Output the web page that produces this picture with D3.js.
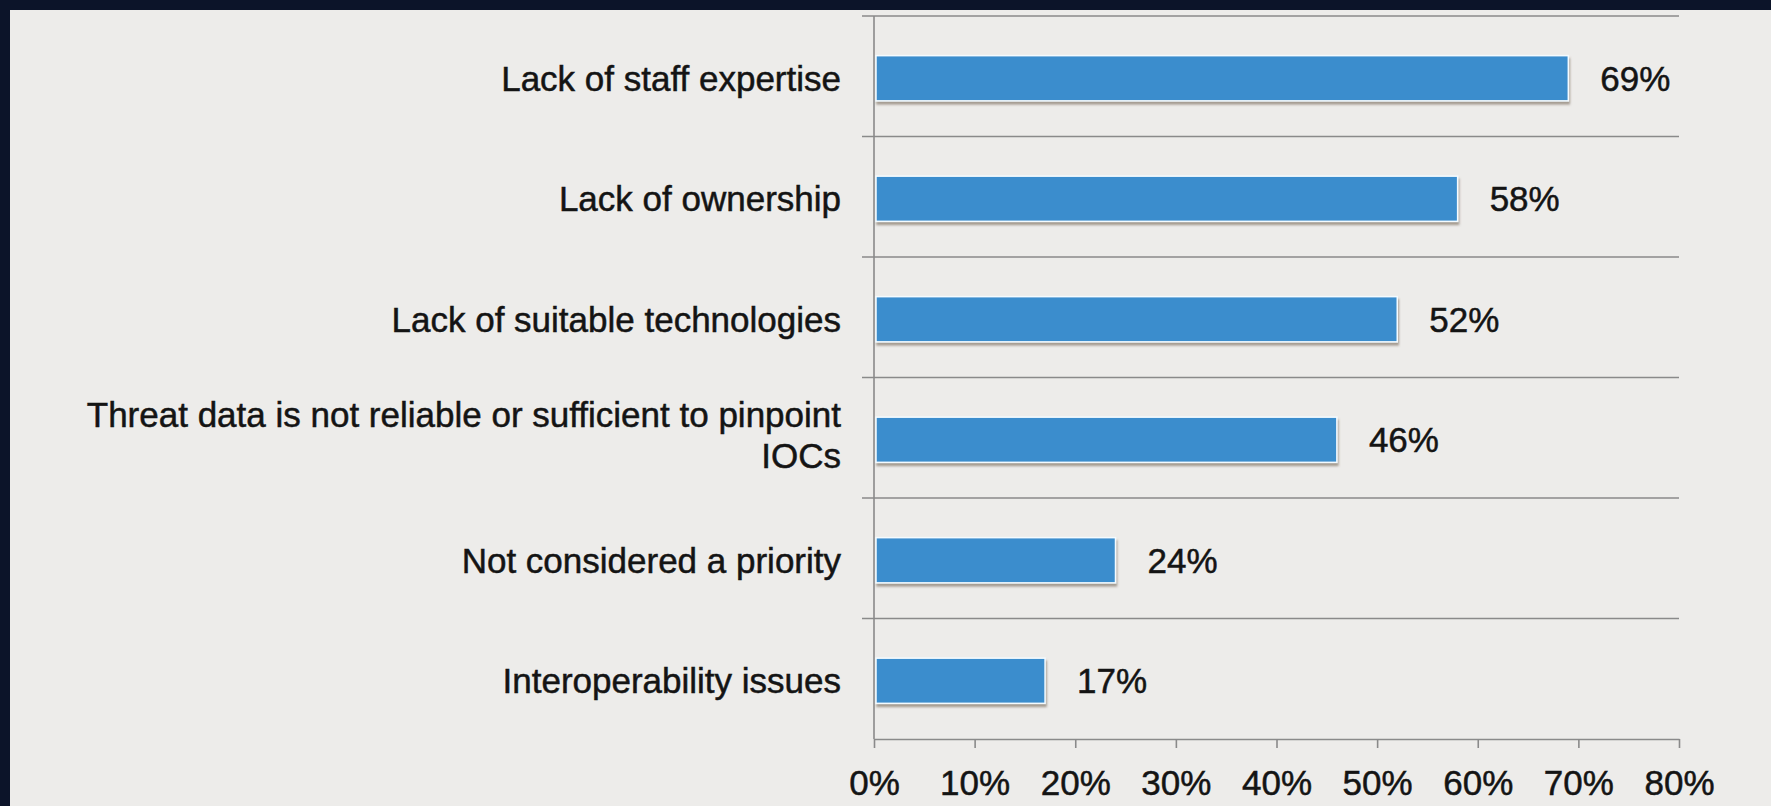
<!DOCTYPE html>
<html>
<head>
<meta charset="utf-8">
<script src="https://cdn.jsdelivr.net/npm/d3@7"></script>
<style>
  html, body { margin: 0; padding: 0; background: #0c1429; }
  svg { display: block; }
  text { font-family: "Liberation Sans", Arial, Helvetica, sans-serif; fill: #141414; }
</style>
</head>
<body>
<svg id="chart" width="1771" height="806"></svg>
<script>
// Survey responses: barriers to using threat intelligence
const categories = [
  "Lack of staff expertise",
  "Lack of ownership",
  "Lack of suitable technologies",
  "Threat data is not reliable or sufficient to pinpoint\nIOCs",
  "Not considered a priority",
  "Interoperability issues"
];
const values = [69, 58, 52, 46, 24, 17];
const tickValues = [0, 10, 20, 30, 40, 50, 60, 70, 80];
const tickLabels = ["0%", "10%", "20%", "30%", "40%", "50%", "60%", "70%", "80%"];

const W = 1771, H = 806;
const svg = d3.select("#chart");

// dark frame with the light panel inset
svg.append("rect").attr("width", W).attr("height", H).attr("fill", "#0c1429");
svg.append("rect").attr("x", 10).attr("y", 10).attr("width", W - 10).attr("height", H - 10)
  .attr("fill", "#edecea");

const plot = { left: 874, right: 1679, top: 16, bottom: 739 };
const fontSize = 35;

const x = d3.scaleLinear().domain([0, 80]).range([plot.left, plot.right]);
const y = d3.scaleBand().domain(categories)
  .range([plot.top, plot.bottom])
  .paddingInner(0.625).paddingOuter(0.3125);

const defs = svg.append("defs");
const shadow = defs.append("filter").attr("id", "barShadow")
  .attr("x", "-5%").attr("y", "-20%").attr("width", "110%").attr("height", "160%");
shadow.append("feDropShadow").attr("dx", 1).attr("dy", 3).attr("stdDeviation", 1.2)
  .attr("flood-color", "#6a5a4a").attr("flood-opacity", 0.55);

const lineColor = "#8a8a8a";

// category separators, extended left of the axis as tick marks
const sepY = d3.range(categories.length + 1).map(i => plot.top + i * (plot.bottom - plot.top) / categories.length);
svg.append("g").selectAll("line").data(sepY.slice(0, -1)).join("line")
  .attr("x1", plot.left - 12).attr("x2", plot.right)
  .attr("y1", d => d).attr("y2", d => d)
  .attr("stroke", lineColor).attr("stroke-width", 1.6);

// bars
svg.append("g").selectAll("rect").data(values).join("rect")
  .attr("x", x(0) + 2)
  .attr("y", (d, i) => y(categories[i]) + 2)
  .attr("width", d => x(d) - x(0) - 2)
  .attr("height", y.bandwidth())
  .attr("fill", "#3b8dcd")
  .attr("stroke", "#f4fbff").attr("stroke-width", 1.5)
  .attr("filter", "url(#barShadow)");

// vertical category axis
svg.append("line")
  .attr("x1", plot.left).attr("x2", plot.left)
  .attr("y1", plot.top).attr("y2", plot.bottom)
  .attr("stroke", lineColor).attr("stroke-width", 1.6);

// horizontal value axis
const xAxis = d3.axisBottom(x)
  .tickValues(tickValues)
  .tickFormat((d, i) => tickLabels[i])
  .tickSizeInner(9).tickSizeOuter(0).tickPadding(22);
const gx = svg.append("g").attr("transform", `translate(0,${plot.bottom})`).call(xAxis);
gx.select(".domain").attr("stroke", lineColor).attr("stroke-width", 1.6);
gx.selectAll(".tick line").attr("stroke", lineColor).attr("stroke-width", 1.6);
gx.selectAll(".tick text")
  .attr("font-size", fontSize)
  .attr("font-family", "'Liberation Sans', Arial, sans-serif")
  .attr("fill", "#141414")
  .attr("stroke", "#141414").attr("stroke-width", 0.5);

// category labels (right-aligned, multi-line where needed)
const labelX = plot.left - 33;
const lineH = 41;
const gl = svg.append("g");
categories.forEach((c, i) => {
  const lines = c.split("\n");
  const cy = y(c) + y.bandwidth() / 2 + 2;
  lines.forEach((ln, k) => {
    gl.append("text")
      .attr("x", labelX)
      .attr("y", cy + (k - (lines.length - 1) / 2) * lineH - (lines.length > 1 ? 5 : 0))
      .attr("text-anchor", "end")
      .attr("font-size", fontSize)
      .attr("stroke", "#141414").attr("stroke-width", 0.5)
      .attr("dominant-baseline", "central")
      .text(ln);
  });
});

// value labels
svg.append("g").selectAll("text").data(values).join("text")
  .attr("x", d => x(d) + 32)
  .attr("y", (d, i) => y(categories[i]) + y.bandwidth() / 2 + 2)
  .attr("dominant-baseline", "central")
  .attr("font-size", fontSize)
  .attr("stroke", "#141414").attr("stroke-width", 0.5)
  .text(d => d + "%");
</script>
</body>
</html>
